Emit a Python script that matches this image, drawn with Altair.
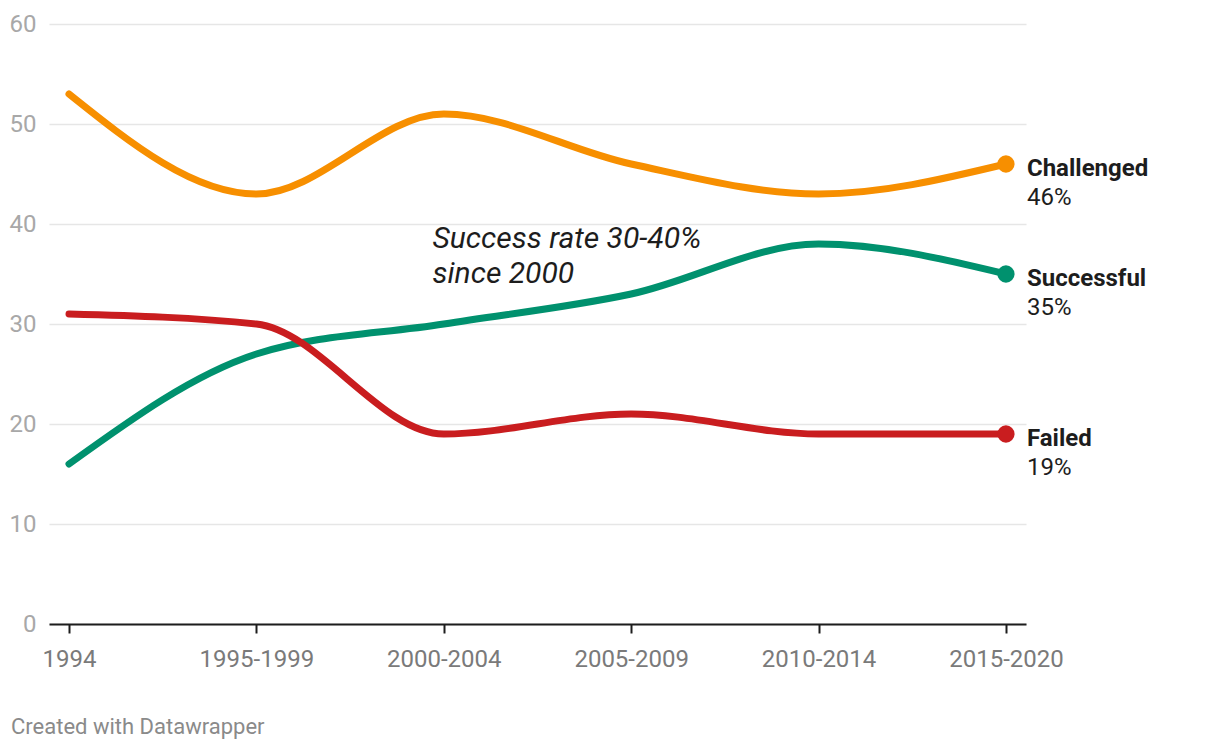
import json
import altair as alt
import pandas as pd

periods = ["1994", "1995-1999", "2000-2004", "2005-2009", "2010-2014", "2015-2020"]
challenged = [53, 43, 51, 46, 43, 46]
successful = [16, 27, 30, 33, 38, 35]
failed = [31, 30, 19, 21, 19, 19]

series_names = ["Challenged", "Successful", "Failed"]
series_colors = ["#f78f00", "#00916e", "#c91d1f"]

annotation_lines = ["Success rate 30-40%", "since 2000"]
annotation_x = 1.94
annotation_y = 38.5

footer_text = "Created with Datawrapper"

rows = []
for name, vals in zip(series_names, [challenged, successful, failed]):
    for i, (p, v) in enumerate(zip(periods, vals)):
        rows.append({"series": name, "idx": i, "period": p, "value": v})
df = pd.DataFrame(rows)

last = df[df["idx"] == len(periods) - 1].copy()
last["pct"] = last["value"].astype(int).astype(str) + "%"

FONT = "Roboto"
label_expr = json.dumps(periods) + "[datum.value]"

xscale = alt.Scale(domain=[-0.1067, 5.107], nice=False, zero=False)
yscale = alt.Scale(domain=[0, 60], nice=False)
color = alt.Color("series:N", scale=alt.Scale(domain=series_names, range=series_colors), legend=None)

base = alt.Chart(df)

lines = base.mark_line(interpolate="monotone", strokeWidth=7, strokeCap="round").encode(
    x=alt.X("idx:Q", scale=xscale, axis=alt.Axis(
        values=list(range(len(periods))), labelExpr=label_expr, title=None, grid=False,
        domainColor="#1d1d1d", domainWidth=2, tickColor="#1d1d1d", tickWidth=2, tickSize=9,
        labelFont=FONT, labelFontSize=24, labelColor="#7a7a7a", labelPadding=14,
        labelFlush=False, labelOverlap=False)),
    y=alt.Y("value:Q", scale=yscale, axis=alt.Axis(
        values=[0, 10, 20, 30, 40, 50, 60], title=None, domain=False, ticks=False,
        grid=True, gridColor="#e6e6e6", gridWidth=1.5,
        labelFont=FONT, labelFontSize=24, labelColor="#a8a8a8", labelPadding=13)),
    color=color,
    order=alt.Order("series_order:Q"),
    detail="series:N",
).transform_calculate(
    series_order="indexof(" + json.dumps(series_names) + ", datum.series)"
)

last_base = alt.Chart(last)

points = last_base.mark_circle(size=300, opacity=1).encode(
    x=alt.X("idx:Q", scale=xscale), y=alt.Y("value:Q", scale=yscale), color=color)

names = last_base.mark_text(align="left", baseline="middle", dx=21, dy=5,
                            font=FONT, fontSize=24, fontWeight="bold", color="#1d1d1d").encode(
    x=alt.X("idx:Q", scale=xscale), y=alt.Y("value:Q", scale=yscale), text="series:N")

pcts = last_base.mark_text(align="left", baseline="middle", dx=21, dy=34,
                           font=FONT, fontSize=24, color="#1d1d1d").encode(
    x=alt.X("idx:Q", scale=xscale), y=alt.Y("value:Q", scale=yscale), text="pct:N")

annot = alt.Chart(pd.DataFrame({"x": [annotation_x], "y": [annotation_y],
                                "t": ["\n".join(annotation_lines)]})).mark_text(
    align="left", baseline="middle", font=FONT, fontSize=30, fontStyle="italic",
    color="#1d1d1d", lineBreak="\n", lineHeight=35).encode(
    x=alt.X("x:Q", scale=xscale), y=alt.Y("y:Q", scale=yscale), text="t:N")

footer = alt.Chart(pd.DataFrame({"t": [footer_text]})).mark_text(
    align="left", baseline="middle", font=FONT, fontSize=22, color="#8a8a8a").encode(
    x=alt.value(-38), y=alt.value(703), text="t:N")

chart = alt.layer(lines, points, names, pcts, annot, footer).properties(
    width=977, height=600,
    padding={"left": 49, "top": 24, "right": 194, "bottom": 126},
    autosize=alt.AutoSizeParams(type="none"),
    background="white",
).configure_view(stroke=None)

chart.save("out.html", embed_options={"renderer": "svg", "actions": False})
